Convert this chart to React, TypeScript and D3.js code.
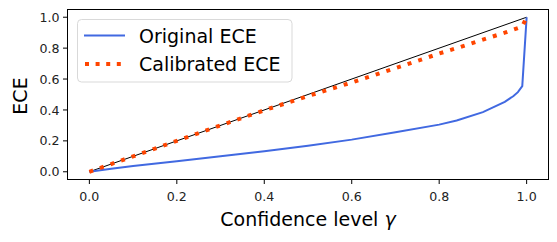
import React from 'react'
import * as d3 from 'd3'

const width = 557
const height = 242
const margin = { left: 67.5, right: 8.5, top: 9.5, bottom: 62.5 }

const confidence = [0, 0.05, 0.1, 0.2, 0.3, 0.4, 0.5, 0.6, 0.7, 0.8, 0.84, 0.9, 0.95, 0.97, 0.98, 0.99, 1.0]
const originalECE = [0, 0.02, 0.038, 0.068, 0.1, 0.133, 0.168, 0.208, 0.256, 0.305, 0.332, 0.386, 0.452, 0.49, 0.515, 0.554, 1.0]
const calibratedECE = [0, 0.05, 0.1, 0.2, 0.3, 0.398, 0.49, 0.578, 0.67, 0.765, 0.8, 0.855, 0.9, 0.92, 0.93, 0.94, 1.0]
const ticks = [0, 0.2, 0.4, 0.6, 0.8, 1.0]

const font = 'DejaVu Sans'

const App = () => {
  const x = d3.scaleLinear().domain([-0.05, 1.05]).range([margin.left, width - margin.right])
  const y = d3.scaleLinear().domain([-0.05, 1.05]).range([height - margin.bottom, margin.top])

  const line = d3.line<[number, number]>()
    .x(d => x(d[0]))
    .y(d => y(d[1]))

  const orig = line(confidence.map((c, i) => [c, originalECE[i]]))
  const calib = line(confidence.map((c, i) => [c, calibratedECE[i]]))
  const diag = line([[0, 0], [1, 1]])

  const x0 = margin.left
  const x1 = width - margin.right
  const y0 = height - margin.bottom
  const y1 = margin.top

  return (
    <svg width={width} height={height} style={{ position: 'absolute', left: 0, top: 0 }}>
      <rect width={width} height={height} fill="white" />
      <path d={diag} stroke="black" strokeWidth={1} fill="none" />
      <path d={orig} stroke="#4169E1" strokeWidth={2} fill="none" />
      <path d={calib} stroke="#FF4500" strokeWidth={4} strokeDasharray="4 7.2" fill="none" />

      <rect x={x0} y={y1} width={x1 - x0} height={y0 - y1} fill="none" stroke="black" strokeWidth={1} />

      {ticks.map(t => (
        <g key={'x' + t}>
          <line x1={x(t)} x2={x(t)} y1={y0} y2={y0 + 4.5} stroke="black" strokeWidth={1} />
          <text x={x(t)} y={y0 + 21.5} textAnchor="middle" fontFamily={font} fontSize={12.6} fill="#222">{t.toFixed(1)}</text>
        </g>
      ))}
      {ticks.map(t => (
        <g key={'y' + t}>
          <line x1={x0} x2={x0 - 4.5} y1={y(t)} y2={y(t)} stroke="black" strokeWidth={1} />
          <text x={x0 - 8} y={y(t) + 4.6} textAnchor="end" fontFamily={font} fontSize={12.6} fill="#222">{t.toFixed(1)}</text>
        </g>
      ))}

      <text x={(x0 + x1) / 2} y={226} textAnchor="middle" fontFamily={font} fontSize={19} fill="black">
        Confidence level <tspan fontStyle="italic">γ</tspan>
      </text>
      <text transform={`translate(26.5, 96) rotate(-90)`} textAnchor="middle" fontFamily={font} fontSize={19} fill="black">ECE</text>

      <g>
        <rect x={77.5} y={19.5} width={214.5} height={62.5} rx={4} fill="white" fillOpacity={0.8} stroke="#d9d9d9" strokeWidth={1} />
        <line x1={84} x2={125} y1={35.5} y2={35.5} stroke="#4169E1" strokeWidth={2} />
        <text x={139} y={43.3} fontFamily={font} fontSize={19} fill="black">Original ECE</text>
        <line x1={85} x2={125} y1={64} y2={64} stroke="#FF4500" strokeWidth={4} strokeDasharray="4 6.6" />
        <text x={139} y={71} fontFamily={font} fontSize={19} fill="black">Calibrated ECE</text>
      </g>
    </svg>
  )
}

export default App
